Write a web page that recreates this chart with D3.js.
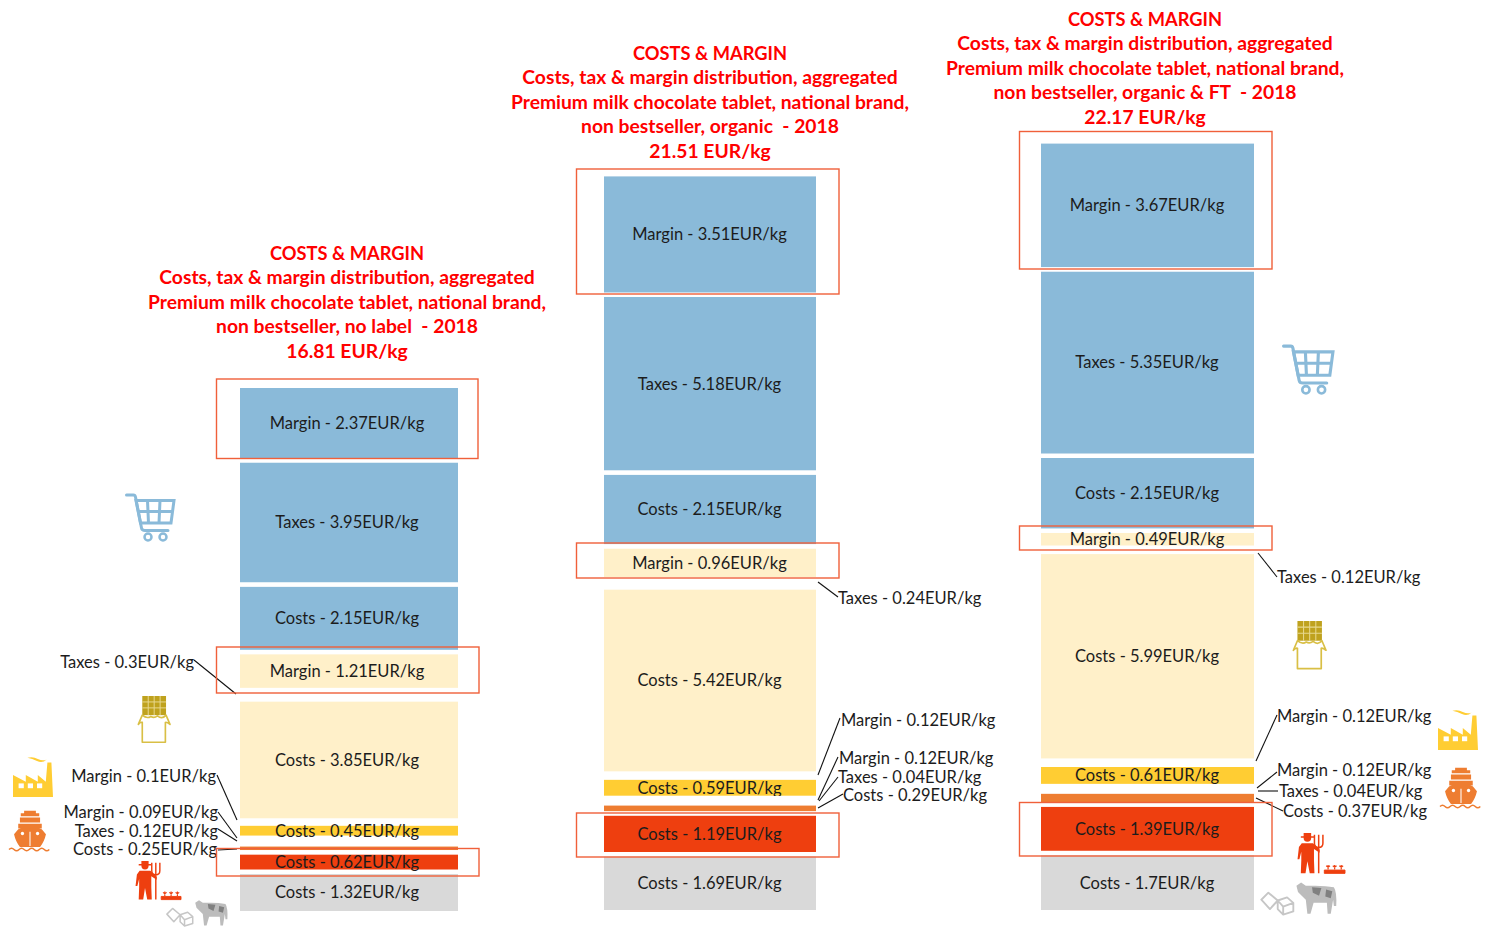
<!DOCTYPE html>
<html><head><meta charset="utf-8">
<script src="https://cdn.jsdelivr.net/npm/d3@7/dist/d3.min.js"></script>
<style>html,body{margin:0;background:#fff}svg{display:block}text{font-family:Lato,"Open Sans",sans-serif}</style>
</head><body><svg id="c" width="1488" height="928"></svg>
<script>
// ---- data ----
const kinds = ["Costs","Costs","Costs","Taxes","Margin","Costs","Margin","Costs","Taxes","Margin","Costs","Taxes","Margin"];
const stages = ["milk","farm","ship","gap","gap","factory","gap","choc","gap","choc","shop","shop","shop"];
const valuesNoLabel = [1.32,0.62,0.25,0.12,0.09,0.45,0.1,3.85,0.3,1.21,2.15,3.95,2.37];
const valuesOrganic = [1.69,1.19,0.29,0.04,0.12,0.59,0.12,5.42,0.24,0.96,2.15,5.18,3.51];
const valuesOrganicFT = [1.7,1.39,0.37,0.04,0.12,0.61,0.12,5.99,0.12,0.49,2.15,5.35,3.67];
const titlesNoLabel = ["COSTS & MARGIN","Costs, tax & margin distribution, aggregated","Premium milk chocolate tablet, national brand,","non bestseller, no label  - 2018","16.81 EUR/kg"];
const titlesOrganic = ["COSTS & MARGIN","Costs, tax & margin distribution, aggregated","Premium milk chocolate tablet, national brand,","non bestseller, organic  - 2018","21.51 EUR/kg"];
const titlesOrganicFT = ["COSTS & MARGIN","Costs, tax & margin distribution, aggregated","Premium milk chocolate tablet, national brand,","non bestseller, organic & FT  - 2018","22.17 EUR/kg"];
const stageNames = ["milk","farm","ship","gap","factory","choc","shop"];
const stageColors = ["#d9d9d9","#ee3f0f","#ee7d31","none","#ffcd33","#fff0c9","#8abad9"];

// ---- layout ----
const color = d3.scaleOrdinal(stageNames, stageColors);
const panels = [
 {values:valuesNoLabel,titles:titlesNoLabel,x:[237.8,460.2],base:913.2,top:385.8,tx:347,ty:253,lx:347,
  clip:[],
  boxes:[[216.5,379,478,458.5],[216.5,647,479,693],[216.5,848.5,479,876]],
  outs:[{i:8,x:194,y:662,a:"end",l:[194,660,236,694]},{i:6,x:216,y:776,a:"end",l:[217,775,237,820]},{i:4,x:218,y:812,a:"end",l:[218,812,237,838]},{i:3,x:218,y:831,a:"end",l:[218,829,237,841]},{i:2,x:217,y:849,a:"end",l:[218,850,237,849]}],
  icons:[["cart",125,492,50],["choc",137,696,33],["factory",13,757,40],["ship",9,810,42],["farmer",136,860,45],["cow",165,899,63]]},
 {values:valuesOrganic,titles:titlesOrganic,x:[601.8,818.2],base:912.2,top:174.2,tx:710,ty:53,lx:709.5,
  clip:[5],
  boxes:[[576.5,169,839,294],[576.5,543,839,578],[576.5,813,839,857]],
  outs:[{i:8,x:838,y:598,a:"start",l:[838,597,818,582]},{i:6,x:841,y:720,a:"start",l:[840,718,818,775]},{i:4,x:839,y:758,a:"start",l:[838,757,818,800]},{i:3,x:838,y:777,a:"start",l:[838,777,819,801]},{i:2,x:843,y:795,a:"start",l:[843,794,818,808]}],
  icons:[]},
 {values:valuesOrganicFT,titles:titlesOrganicFT,x:[1038.8,1256.2],base:912.2,top:141.4,tx:1145,ty:19,lx:1147,
  clip:[5],
  boxes:[[1019.5,131.5,1272,269],[1019.5,526,1272,550],[1019.5,802.5,1272,856]],
  outs:[{i:8,x:1277,y:577,a:"start",l:[1277,577,1258,553]},{i:6,x:1277,y:716,a:"start",l:[1277,715,1256,761]},{i:4,x:1277,y:770,a:"start",l:[1277,772,1257,788]},{i:3,x:1279,y:791,a:"start",l:[1278,791,1258,791]},{i:2,x:1283,y:811,a:"start",l:[1283,811,1256,798]}],
  icons:[["cart",1282,343,52],["choc",1292,621,34],["factory",1438,710,40],["ship",1440,767,42],["farmer",1298,832,47],["cow",1259,881,78]]}
];

function icon_cart(g){
  const c="#8abad9";
  g.append("path").attr("d","M3 6H17Q20 6 21 10L33 72Q34 77 40 77H86").attr("fill","none").attr("stroke",c).attr("stroke-width",6).attr("stroke-linecap","round");
  g.append("path").attr("d","M22 17H98L92 62H31Z M26 39H95 M45 17L47 62 M70 17L68 62").attr("fill","none").attr("stroke",c).attr("stroke-width",6);
  g.selectAll("circle").data([[46,90],[76,90]]).join("circle").attr("cx",d=>d[0]).attr("cy",d=>d[1]).attr("r",7).attr("fill","none").attr("stroke",c).attr("stroke-width",5);
}
function icon_choc(g){
  const c="#bfa21e";
  g.append("rect").attr("x",16).attr("y",0).attr("width",72).attr("height",58).attr("fill",c);
  g.append("path").attr("d","M34 0V58 M52 0V58 M70 0V58 M16 18H88 M16 36H88").attr("stroke","#e8d98f").attr("stroke-width",3).attr("fill","none");
  g.append("path").attr("d","M4 86L16 58Q30 70 42 62Q52 68 62 60Q76 72 88 58L100 86Q90 78 86 80V140H16V80Q10 78 4 86Z").attr("fill","#fff").attr("stroke","#d9bf45").attr("stroke-width",5).attr("stroke-linejoin","round");
}
function icon_factory(g){
  const c="#ffcd33";
  g.append("path").attr("d","M0 45L32 62V45L62 62V45L82 62L86 14H96L100 100H0Z").attr("fill",c);
  g.append("path").attr("d","M36 2Q50 -2 62 5Q75 11 84 6Q74 16 60 10Q48 4 36 2Z").attr("fill",c);
  g.selectAll("rect").data([14,37,60]).join("rect").attr("x",d=>d).attr("y",66).attr("width",13).attr("height",12).attr("fill","#fff");
}
function icon_ship(g){
  const c="#ee7d31";
  g.append("path").attr("d","M36 2H64V8H72V15H28V8H36Z M26 18H74V30H26Z M22 33H78V44H22Z M22 46L50 38L78 46L88 58Q84 76 74 88H26Q16 76 12 58Z").attr("fill",c);
  g.append("path").attr("d","M50 52V86").attr("stroke","#fff").attr("stroke-width",2.5);
  g.selectAll("circle").data([32,68]).join("circle").attr("cx",d=>d).attr("cy",56).attr("r",4).attr("fill","#fff");
  g.append("path").attr("d","M0 94Q6 88 12 94T24 94T36 94T48 94T60 94T72 94T84 94T96 94").attr("fill","none").attr("stroke",c).attr("stroke-width",3.5);
}
function icon_farmer(g){
  const c="#ee3f0f";
  g.append("circle").attr("cx",20).attr("cy",13).attr("r",8).attr("fill",c);
  g.append("path").attr("d","M6 9H34V12H6Z M12 2H28V9H12Z").attr("fill",c);
  g.append("path").attr("d","M8 24H32L46 38V44L34 36V60L35 88H25L20 62L16 88H6L7 60V42L3 58H-1L2 32Z").attr("fill",c);
  g.append("path").attr("d","M44 34V88 M35 6V24Q35 33 44 33Q53 33 53 24V6 M44 6V33").attr("fill","none").attr("stroke",c).attr("stroke-width",3.2);
  g.append("path").attr("d","M56 88V81H100V88Z").attr("fill",c).attr("stroke",c).attr("stroke-width",2);
  g.append("path").attr("d","M64 80V70M60 72L64 75L68 72 M78 80V70M74 72L78 75L82 72 M92 80V70M88 72L92 75L96 72").attr("fill","none").attr("stroke",c).attr("stroke-width",2.6);
}
function icon_cow(g){
  const c="#bcbcbc";
  g.append("path").attr("d","M48 6L54 2L60 6H72Q86 6 96 8Q100 14 99 32H96L95 24L92 42H88L87 28H70L66 42H62L60 24Q54 18 50 14Z").attr("fill",c);
  g.append("path").attr("d","M68 8L80 9L77 19L69 15Z M86 11L94 13L92 22L85 20Z").attr("fill","#808080");
  g.append("path").attr("d","M3 24L12 15L24 25L14 36Z M24 25L36 21L44 28V39L31 43L24 36Z M24 25L31 33L44 28 M31 33V43").attr("fill","none").attr("stroke","#c6c6c6").attr("stroke-width",2.4).attr("stroke-linejoin","round");
}
const icon={cart:icon_cart,choc:icon_choc,factory:icon_factory,ship:icon_ship,farmer:icon_farmer,cow:icon_cow};

const svg = d3.select("#c");
const defs = svg.append("defs");
const TXT = "#1c1c1c", RED = "#ff0000", BOX = "#f0603a";
const fs = 16.5, tfs = 19.3;

panels.forEach((p,pi)=>{
  const g = svg.append("g");
  const total = d3.sum(p.values);
  const y = d3.scaleLinear().domain([0,total]).range([p.base,p.top]);
  const cum = Array.from(d3.cumsum(p.values));
  const segs = p.values.map((v,i)=>({v,i,kind:kinds[i],stage:stages[i],y0:i?cum[i-1]:0,y1:cum[i]}));
  // bars
  g.selectAll("rect.seg").data(segs.filter(d=>d.stage!=="gap")).join("rect").attr("class","seg")
    .attr("x",p.x[0]).attr("width",p.x[1]-p.x[0])
    .attr("y",d=>y(d.y1)).attr("height",d=>y(d.y0)-y(d.y1))
    .attr("fill",d=>color(d.stage)).attr("stroke","#fff").attr("stroke-width",4.4);
  // inside labels (the orange transport cost is labelled outside)
  const outIdx = p.outs.map(o=>o.i);
  const inside = segs.filter(d=>!outIdx.includes(d.i));
  inside.filter(d=>p.clip.includes(d.i)).forEach(d=>{
    defs.append("clipPath").attr("id",`cl${pi}-${d.i}`).append("rect")
      .attr("x",p.x[0]).attr("width",p.x[1]-p.x[0]).attr("y",y(d.y1)-10).attr("height",y(d.y0)-y(d.y1)+8);
  });
  g.selectAll("text.in").data(inside).join("text").attr("class","in")
    .attr("x",p.lx).attr("y",d=>(y(d.y0)+y(d.y1))/2).attr("dy","0.36em")
    .attr("text-anchor","middle").attr("font-size",fs).attr("fill",TXT)
    .attr("clip-path",d=>p.clip.includes(d.i)?`url(#cl${pi}-${d.i})`:null)
    .text(d=>`${d.kind} - ${d.v}EUR/kg`);
  // outside labels + leaders
  g.selectAll("line.lead").data(p.outs).join("line").attr("class","lead")
    .attr("x1",d=>d.l[0]).attr("y1",d=>d.l[1]).attr("x2",d=>d.l[2]).attr("y2",d=>d.l[3])
    .attr("stroke","#111").attr("stroke-width",1.1);
  g.selectAll("text.out").data(p.outs).join("text").attr("class","out")
    .attr("x",d=>d.x).attr("y",d=>d.y).attr("dy","0.36em").attr("text-anchor",d=>d.a)
    .attr("font-size",fs).attr("fill",TXT)
    .text(d=>`${kinds[d.i]} - ${p.values[d.i]}EUR/kg`);
  // boxes
  g.selectAll("rect.box").data(p.boxes).join("rect").attr("class","box")
    .attr("x",d=>d[0]).attr("y",d=>d[1]).attr("width",d=>d[2]-d[0]).attr("height",d=>d[3]-d[1])
    .attr("fill","none").attr("stroke",BOX).attr("stroke-width",1.4);
  // title
  g.selectAll("text.title").data(p.titles).join("text").attr("class","title")
    .attr("x",p.tx).attr("y",(d,i)=>p.ty+i*24.5).attr("dy","0.36em").attr("text-anchor","middle")
    .attr("font-size",(d,i)=>i===0?18.3:tfs).attr("font-weight",700).attr("fill",RED).style("white-space","pre").text(d=>d);
  // icons
  p.icons.forEach(ic=>icon[ic[0]](g.append("g").attr("transform",`translate(${ic[1]},${ic[2]}) scale(${ic[3]/100})`)));
});
</script></body></html>
